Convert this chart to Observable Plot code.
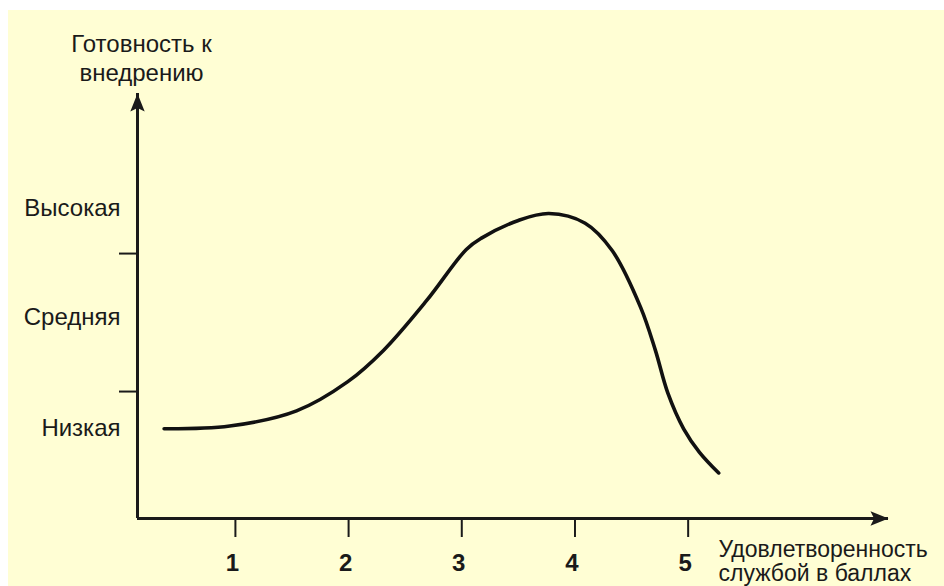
<!DOCTYPE html>
<html>
<head>
<meta charset="utf-8">
<script src="https://cdn.jsdelivr.net/npm/d3@7"></script>
<script src="https://cdn.jsdelivr.net/npm/@observablehq/plot@0.6"></script>
<style>
  html, body { margin: 0; padding: 0; background: #ffffff; }
  #chart svg {
    display: block;
    background:
      linear-gradient(#ffffff, #ffffff) 0 0 / 100% 10px no-repeat,
      linear-gradient(#ffffff, #ffffff) 0 0 / 8px 100% no-repeat,
      #FFFED4;
  }
  #chart g[aria-label="x-axis tick label"] text { font-weight: bold; }
</style>
</head>
<body>
<div id="chart"></div>
<script>
// Curve: satisfaction score (x) vs readiness to adopt (y)
const satisfaction = [0.37, 0.95, 1.54, 1.99, 2.31, 2.69, 3.04, 3.17, 3.50, 3.77, 4.09, 4.33, 4.58, 4.71, 4.82, 4.96, 5.10, 5.27];
const readiness    = [0.73, 0.75, 0.86, 1.07, 1.30, 1.66, 2.03, 2.11, 2.24, 2.29, 2.22, 2.02, 1.61, 1.30, 0.99, 0.73, 0.56, 0.41];

// Axis ticks and labels
const xTicks = [1, 2, 3, 4, 5];
const levelBounds = [1, 2];
const levelLabels = ["Низкая", "Средняя", "Высокая"];
const levelPos = [0.73, 1.54, 2.33];
const yTitle = "Готовность к\nвнедрению";
const xTitle = "Удовлетворенность\nслужбой в баллах";
const xDomain = [0.135, 6.77];
const yDomain = [0.08, 3.16];

const curve = satisfaction.map((s, i) => ({s, r: readiness[i]}));

const ink = "#1a1a1a";
const arrowHead = {
  draw(ctx, size) {
    const r = Math.sqrt(size / Math.PI);
    ctx.moveTo(0, 0);
    ctx.lineTo(-0.8 * r, 2 * r);
    ctx.lineTo(0, 1.6 * r);
    ctx.lineTo(0.8 * r, 2 * r);
    ctx.closePath();
  }
};

const chart = Plot.plot({
  width: 944,
  height: 586,
  marginLeft: 137,
  marginRight: 56,
  marginTop: 93,
  marginBottom: 68,
  x: {domain: xDomain},
  y: {domain: yDomain},
  style: {fontFamily: "'Liberation Sans', Arial, sans-serif", overflow: "visible", color: ink},
  marks: [
    Plot.axisY({ticks: levelBounds, tickSize: 18, tickFormat: () => "", strokeWidth: 2, stroke: ink, label: null}),
    Plot.axisX({ticks: xTicks, tickSize: 19, tickFormat: () => "", strokeWidth: 2, stroke: ink, label: null}),
    Plot.axisX({ticks: xTicks, tickSize: 0, tickPadding: 35, dx: -3, tickFormat: d => String(d), fontSize: 24, fontWeight: "bold", fill: ink, label: null}),
    Plot.ruleY([yDomain[0]], {x1: xDomain[0], x2: xDomain[1], stroke: ink, strokeWidth: 3}),
    Plot.ruleX([xDomain[0]], {y1: yDomain[0], y2: yDomain[1], stroke: ink, strokeWidth: 3}),
    Plot.dot([0], {x: xDomain[1], y: yDomain[0], symbol: arrowHead, r: 9, rotate: 90, fill: ink, stroke: "none"}),
    Plot.dot([0], {x: xDomain[0], y: yDomain[1], symbol: arrowHead, r: 9, fill: ink, stroke: "none"}),
    Plot.line(curve, {x: "s", y: "r", curve: "catmull-rom", stroke: "#111", strokeWidth: 3.6}),
    Plot.text(levelLabels, {x: xDomain[0], y: levelPos, text: d => d, textAnchor: "end", dx: -17, fontSize: 24, fill: ink}),
    Plot.text([yTitle], {x: xDomain[0], y: yDomain[1], text: d => d, textAnchor: "middle", lineAnchor: "middle", dx: 4, dy: -36, lineHeight: 1.2, fontSize: 24, fill: ink}),
    Plot.text([xTitle], {x: xDomain[1], y: yDomain[0], text: d => d, textAnchor: "start", lineAnchor: "middle", dx: -170, dy: 43, lineHeight: 1.05, fontSize: 23, fill: ink})
  ]
});
document.getElementById("chart").appendChild(chart);
</script>
</body>
</html>
